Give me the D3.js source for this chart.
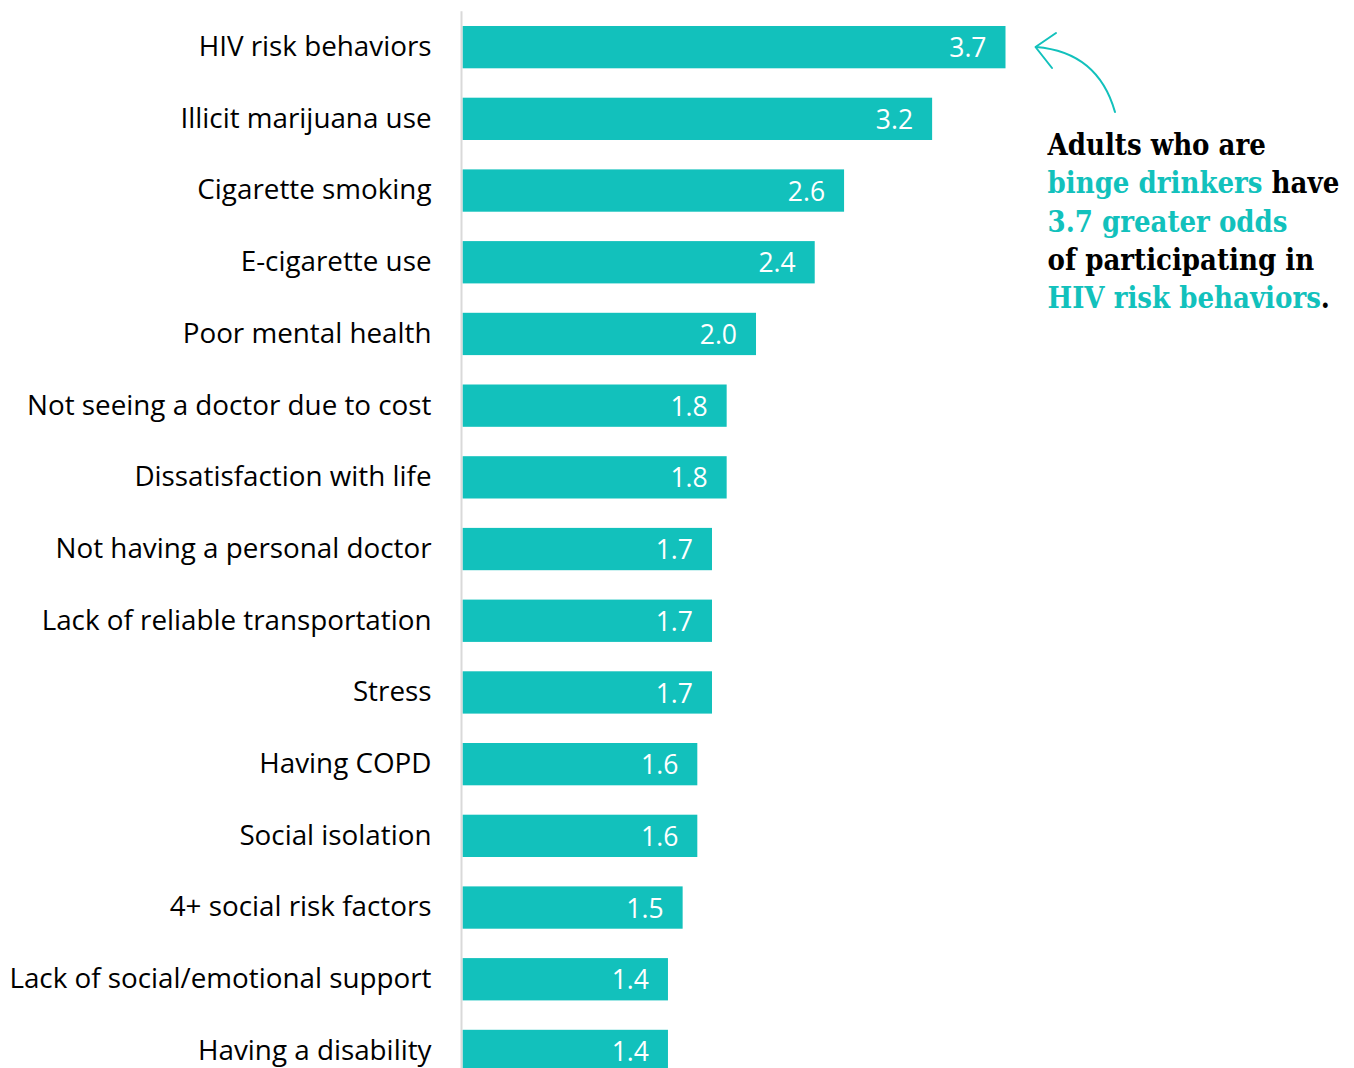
<!DOCTYPE html>
<html>
<head>
<meta charset="utf-8">
<script src="https://cdn.jsdelivr.net/npm/d3@7"></script>
<style>
  html, body { margin: 0; padding: 0; background: #fff; }
  svg { display: block; }
</style>
</head>
<body>
<svg id="chart" width="1354" height="1068"></svg>
<script>
// Odds ratios associated with binge drinking
const categories = [
  "HIV risk behaviors",
  "Illicit marijuana use",
  "Cigarette smoking",
  "E-cigarette use",
  "Poor mental health",
  "Not seeing a doctor due to cost",
  "Dissatisfaction with life",
  "Not having a personal doctor",
  "Lack of reliable transportation",
  "Stress",
  "Having COPD",
  "Social isolation",
  "4+ social risk factors",
  "Lack of social/emotional support",
  "Having a disability"
];
const oddsRatios = [3.7, 3.2, 2.6, 2.4, 2.0, 1.8, 1.8, 1.7, 1.7, 1.7, 1.6, 1.6, 1.5, 1.4, 1.4];

const teal = "#12C1BC";
const labelFont = "'Open Sans', 'Noto Sans', sans-serif";
const noteFont = "'DejaVu Serif', serif";

const svg = d3.select("#chart");

const x = d3.scaleLinear().domain([0, 3.7]).range([462.5, 1005.5]);
const y = d3.scaleBand()
  .domain(categories)
  .range([11.3, 11.3 + categories.length * 71.7])
  .paddingInner(0.41)
  .paddingOuter(0.205);

const rows = categories.map((c, i) => ({ category: c, value: oddsRatios[i] }));

// bars
svg.append("g").selectAll("rect")
  .data(rows)
  .join("rect")
  .attr("x", x(0))
  .attr("y", d => y(d.category))
  .attr("width", d => x(d.value) - x(0))
  .attr("height", y.bandwidth())
  .attr("fill", teal);

// baseline
svg.append("line")
  .attr("x1", 461.5).attr("x2", 461.5)
  .attr("y1", y.range()[0]).attr("y2", y.range()[1])
  .attr("stroke", "#d9d9d9")
  .attr("stroke-width", 2);

// category labels
svg.append("g").selectAll("text")
  .data(rows)
  .join("text")
  .attr("x", 431.5)
  .attr("y", d => y(d.category) + y.bandwidth() / 2)
  .attr("dy", "0.32em")
  .attr("text-anchor", "end")
  .attr("font-family", labelFont)
  .attr("font-size", 27.8)
  .attr("fill", "#000")
  .text(d => d.category);

// value labels inside bars
svg.append("g").selectAll("text")
  .data(rows)
  .join("text")
  .attr("x", d => x(d.value) - 19)
  .attr("y", d => y(d.category) + y.bandwidth() / 2)
  .attr("dy", "0.38em")
  .attr("text-anchor", "end")
  .attr("font-family", labelFont)
  .attr("font-size", 26.5)
  .attr("fill", "#fff")
  .text(d => d.value.toFixed(1));

// callout arrow
const arrow = svg.append("g")
  .attr("fill", "none")
  .attr("stroke", teal)
  .attr("stroke-width", 2)
  .attr("stroke-linecap", "round")
  .attr("stroke-linejoin", "round");
arrow.append("path").attr("d", "M1115,112 Q1098,52 1036,47");
arrow.append("path").attr("d", "M1056,33 L1035.5,47 L1052,68");

// callout text
const noteLines = [
  [["Adults who are", "#000"]],
  [["binge drinkers", teal], [" have", "#000"]],
  [["3.7 greater odds", teal]],
  [["of participating in", "#000"]],
  [["HIV risk behaviors", teal], [".", "#000"]]
];
const note = svg.append("text")
  .attr("font-family", noteFont)
  .attr("font-weight", "bold")
  .attr("font-size", 29)
  .attr("font-stretch", "condensed");
noteLines.forEach((line, i) => {
  line.forEach(([t, c], j) => {
    const ts = note.append("tspan").attr("fill", c).text(t);
    if (j === 0) ts.attr("x", 1047.5).attr("y", 155 + i * 38.3);
  });
});
</script>
</body>
</html>
